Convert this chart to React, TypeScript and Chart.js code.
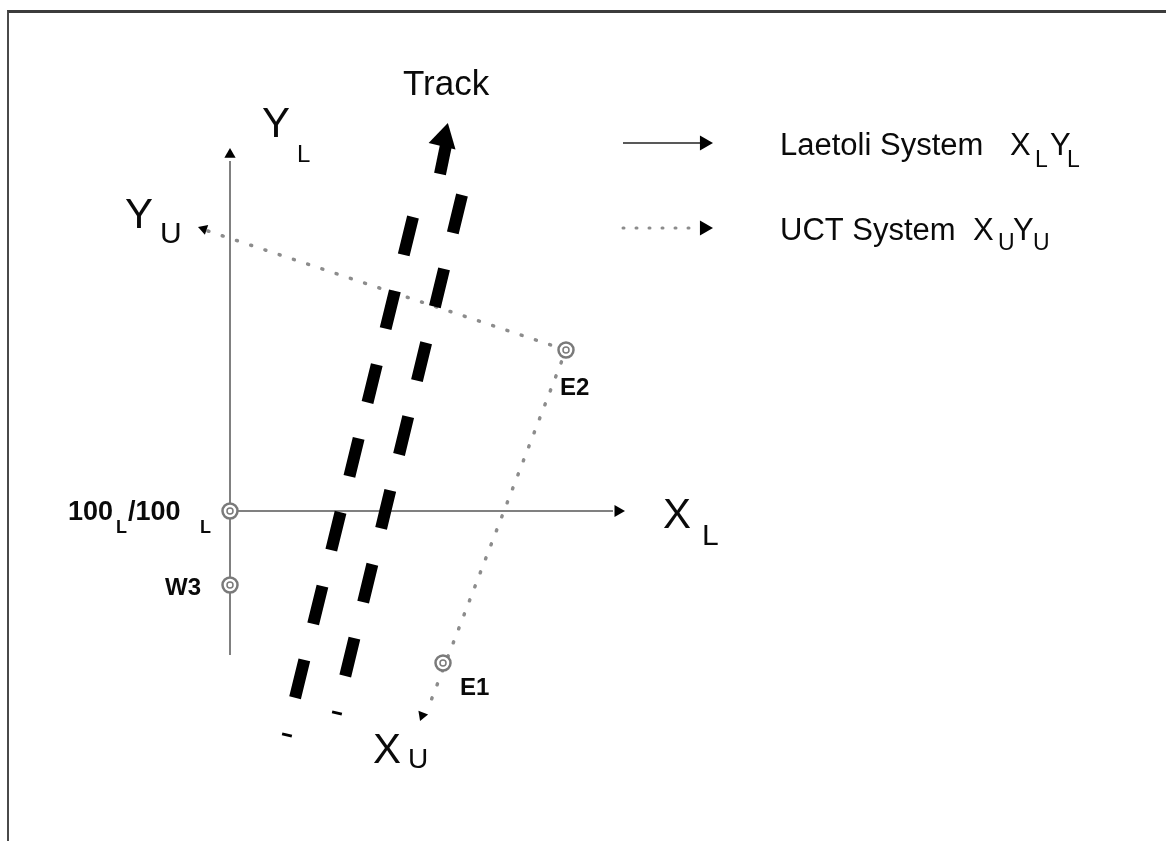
import React, { useEffect, useRef } from 'react';
import { Chart, registerables } from 'chart.js';

Chart.register(...registerables);

const CANVAS_W = 1166;
const CANVAS_H = 841;

// Data space: Laetoli grid units, datum 100_L/100_L at (100, 100)
const xRange = [-130, 1036];
const yRange = [-230, 611];

// Survey stations
const stationNames = ['100L/100L', 'W3', 'E1', 'E2'];
const stationX = [100, 100, 313, 436];
const stationY = [100, 26, -52, 261];

// Laetoli system axes (X_L, Y_L)
const yAxisLX = [100, 100];
const yAxisLY = [-44, 450];
const xAxisLX = [100, 483];
const xAxisLY = [100, 100];

// UCT system axes (Y_U end -> E2 -> X_U end)
const uctX = [78, 436, 297];
const uctY = [380, 261, -100];

// Track (two dashed trails)
const trackLeftX = [283, 165];
const trackLeftY = [394, -87];
const trackRightX = [332, 215];
const trackRightY = [416, -66];
const trackShaftX = [310, 316];
const trackShaftY = [437, 466];
const trackStubX = [157, 207];
const trackStubY = [-124, -102];

// Legend sample lines
const legendLineX = [493, 570];
const legendSolidY = [468, 468];
const legendDottedY = [383, 383];

// Arrowheads
const arrowX = [100, 488, 73.7, 292.2, 314, 574.3, 574.3];
const arrowY = [456.5, 100, 382.1, -104.4, 472.5, 468, 383];
const arrowRot = [0, 90, -71.6, 201, 14, 90, 90];
const arrowSize = [6.5, 7, 6, 6, 16, 8.7, 8.7];

// Text labels
const labelText = ['Track', 'Y', 'L', 'Y', 'U', 'X', 'L', 'X', 'U',
  'Laetoli System', 'X', 'L', 'Y', 'L',
  'UCT System', 'X', 'U', 'Y', 'U',
  'E2', 'E1', 'W3', '100', 'L', '/100', 'L'];
const labelX = [273, 132, 167, -5, 30, 533, 572, 243, 278,
  650, 880, 905, 920, 937,
  650, 843, 868, 883, 903,
  430, 330, 35, -62, -14, -2, 70];
const labelY = [516, 474, 449, 383, 368, 83, 66, -152, -157,
  456, 456, 444, 456, 444,
  371, 371, 361, 371, 361,
  216, -84, 16, 91, 78, 91, 78];
const labelSize = [35, 42, 24, 42, 30, 42, 30, 42, 28,
  31, 31, 23, 31, 23,
  31, 31, 23, 31, 23,
  24, 24, 24, 27, 18, 27, 18];
const labelWeight = ['normal', 'normal', 'normal', 'normal', 'normal', 'normal', 'normal', 'normal', 'normal',
  'normal', 'normal', 'normal', 'normal', 'normal',
  'normal', 'normal', 'normal', 'normal', 'normal',
  'bold', 'bold', 'bold', 'bold', 'bold', 'bold', 'bold'];

const FONT = "'Liberation Sans', Arial, Helvetica, sans-serif";

const pts = (xs: number[], ys: number[]) => xs.map((x, i) => ({ x, y: ys[i] }));

const textPlugin = {
  id: 'diagramText',
  afterDatasetsDraw(chart: any) {
    const { ctx, scales } = chart;
    ctx.save();
    ctx.fillStyle = '#0a0a0a';
    ctx.textAlign = 'left';
    ctx.textBaseline = 'alphabetic';
    labelText.forEach((t, i) => {
      ctx.font = `${labelWeight[i]} ${labelSize[i]}px ${FONT}`;
      ctx.fillText(t, scales.x.getPixelForValue(labelX[i]), scales.y.getPixelForValue(labelY[i]));
    });
    ctx.restore();
  },
};

export default function App() {
  const ref = useRef<HTMLCanvasElement | null>(null);
  useEffect(() => {
    if (!ref.current) return;
    const lineDs = (data: any[], color: string, width: number, dash: number[], cap: string, order: number) => ({
      type: 'scatter',
      data,
      showLine: true,
      borderColor: color,
      borderWidth: width,
      borderDash: dash,
      borderCapStyle: cap,
      pointRadius: 0,
      pointHoverRadius: 0,
      tension: 0,
      order,
    });
    const chart = new Chart(ref.current, {
      type: 'scatter',
      data: {
        datasets: [
          {
            label: 'stations inner',
            data: pts(stationX, stationY),
            pointStyle: 'circle',
            pointRadius: 3,
            pointBorderWidth: 1.5,
            pointBorderColor: '#7a7a7a',
            pointBackgroundColor: 'rgba(255,255,255,0)',
            order: 0,
          } as any,
          {
            label: 'stations',
            data: pts(stationX, stationY),
            pointStyle: 'circle',
            pointRadius: 7.5,
            pointBorderWidth: 2.5,
            pointBorderColor: '#7a7a7a',
            pointBackgroundColor: '#ffffff',
            order: 1,
          } as any,
          {
            label: 'arrowheads',
            data: pts(arrowX, arrowY),
            pointStyle: 'triangle',
            pointRadius: arrowSize,
            pointRotation: arrowRot,
            pointBorderWidth: 0,
            pointBackgroundColor: '#000',
            order: 2,
          } as any,
          {
            label: 'track stubs',
            data: pts(trackStubX, trackStubY),
            pointStyle: 'line',
            pointRadius: 5,
            pointRotation: 13,
            pointBorderWidth: 3,
            pointBorderColor: '#000',
            order: 3,
          } as any,
          lineDs(pts(trackShaftX, trackShaftY), '#000', 12, [], 'butt', 4),
          lineDs(pts(trackLeftX, trackLeftY), '#000', 12, [39, 37], 'butt', 5),
          lineDs(pts(trackRightX, trackRightY), '#000', 12, [39, 37], 'butt', 6),
          lineDs(pts(uctX, uctY), '#8c8c8c', 3.5, [1, 14], 'round', 7),
          lineDs(pts(yAxisLX, yAxisLY), '#808080', 2, [], 'butt', 8),
          lineDs(pts(xAxisLX, xAxisLY), '#808080', 2, [], 'butt', 9),
          lineDs(pts(legendLineX, legendSolidY), '#222', 1.5, [], 'butt', 10),
          lineDs(pts(legendLineX, legendDottedY), '#8c8c8c', 3, [1, 12], 'round', 11),
        ] as any,
      },
      options: {
        animation: false,
        responsive: false,
        events: [],
        layout: { padding: 0, autoPadding: false },
        plugins: { legend: { display: false }, tooltip: { enabled: false }, title: { display: false } },
        scales: {
          x: { type: 'linear', min: xRange[0], max: xRange[1], display: false },
          y: { type: 'linear', min: yRange[0], max: yRange[1], display: false },
        },
      } as any,
      plugins: [textPlugin],
    });
    return () => chart.destroy();
  }, []);

  return (
    <div style={{ position: 'fixed', left: 0, top: 0, width: CANVAS_W, height: CANVAS_H, background: '#fff' }}>
      <canvas ref={ref} width={CANVAS_W} height={CANVAS_H} style={{ position: 'absolute', left: 0, top: 0 }} />
      <div
        style={{
          position: 'absolute',
          left: 7,
          top: 10,
          width: CANVAS_W - 7,
          height: CANVAS_H - 10,
          borderTop: '3px solid #3c3c3c',
          borderLeft: '2px solid #4a4a4a',
          boxSizing: 'border-box',
          pointerEvents: 'none',
        }}
      />
    </div>
  );
}
